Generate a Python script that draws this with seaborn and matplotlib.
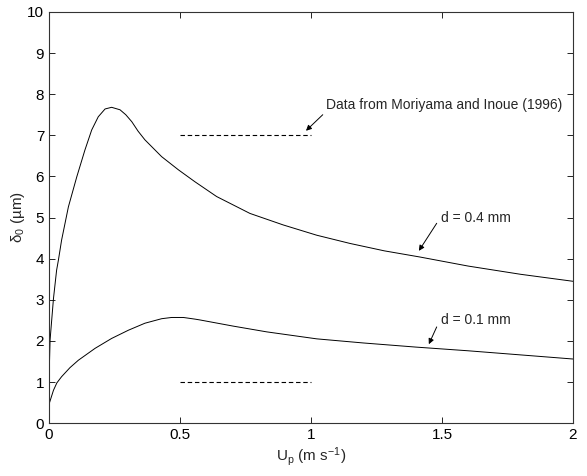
import numpy as np
import pandas as pd
import matplotlib
matplotlib.use("Agg")
import matplotlib.pyplot as plt
import seaborn as sns

# curves
up_04 = [0, 0.001, 0.004, 0.017, 0.029, 0.036, 0.048, 0.074, 0.106, 0.137, 0.163,
         0.188, 0.214, 0.239, 0.271, 0.293, 0.316, 0.34, 0.366, 0.43, 0.494, 0.557,
         0.64, 0.767, 0.894, 1.022, 1.149, 1.28, 1.416, 1.6, 1.8, 2.0]
delta_04 = [1.2, 1.29, 2.02, 3.03, 3.72, 3.97, 4.45, 5.26, 5.99, 6.64, 7.13,
            7.45, 7.64, 7.68, 7.62, 7.5, 7.33, 7.1, 6.89, 6.48, 6.16, 5.87,
            5.51, 5.10, 4.82, 4.57, 4.37, 4.19, 4.04, 3.82, 3.62, 3.45]

up_01 = [0, 0.001, 0.017, 0.03, 0.048, 0.08, 0.112, 0.176, 0.239, 0.303, 0.366,
         0.43, 0.468, 0.513, 0.557, 0.576, 0.703, 0.831, 1.022, 1.2, 1.4, 1.6,
         1.8, 2.0]
delta_01 = [0.3, 0.48, 0.80, 0.98, 1.13, 1.35, 1.53, 1.82, 2.06, 2.26, 2.43,
            2.54, 2.57, 2.57, 2.53, 2.51, 2.36, 2.22, 2.05, 1.95, 1.85, 1.76,
            1.66, 1.56]

# Moriyama and Inoue (1996) data ranges
data_x = [0.5, 1.0]
data_high = [7, 7]
data_low = [1, 1]

sns.set_style("ticks")
plt.rcParams['font.family'] = ['Liberation Sans', 'DejaVu Sans']
plt.rcParams['mathtext.fontset'] = 'custom'
plt.rcParams['mathtext.rm'] = 'Liberation Sans'
plt.rcParams['mathtext.it'] = 'Liberation Sans'

fig = plt.figure(figsize=(5.87, 4.76), dpi=100)
ax = fig.add_axes([0.0835, 0.111, 0.8925, 0.864])

sns.lineplot(x=up_04, y=delta_04, color='black', lw=0.7, sort=False, ax=ax)
sns.lineplot(x=up_01, y=delta_01, color='black', lw=0.7, sort=False, ax=ax)
sns.lineplot(x=data_x, y=data_high, color='black', lw=0.8, ls=(0, (4, 2.5)), ax=ax)
sns.lineplot(x=data_x, y=data_low, color='black', lw=0.8, ls=(0, (4, 2.5)), ax=ax)

arrow = dict(arrowstyle='-|>', color='black', lw=0.7, mutation_scale=8, shrinkA=0, shrinkB=0)
ax.annotate('', xy=(0.981, 7.11), xytext=(1.045, 7.5), arrowprops=arrow)
ax.text(1.056, 7.74, 'Data from Moriyama and Inoue (1996)', fontsize=10, va='center')
ax.annotate('', xy=(1.412, 4.19), xytext=(1.48, 4.86), arrowprops=arrow)
ax.text(1.496, 4.98, 'd = 0.4 mm', fontsize=10, va='center')
ax.annotate('', xy=(1.45, 1.92), xytext=(1.48, 2.34), arrowprops=arrow)
ax.text(1.496, 2.51, 'd = 0.1 mm', fontsize=10, va='center')

ax.set_xlim(0, 2)
ax.set_ylim(0, 10)
ax.set_xticks([0, 0.5, 1, 1.5, 2])
ax.set_xticklabels(['0', '0.5', '1', '1.5', '2'])
ax.set_yticks(range(0, 11))
ax.tick_params(direction='in', top=True, right=True, length=4, width=0.6,
               labelsize=11, colors='black')
for s in ax.spines.values():
    s.set_linewidth(0.8)
    s.set_color('#333333')

ax.set_xlabel('U$_p$ (m s$^{-1}$)', fontsize=11, labelpad=2)
ax.set_ylabel('δ$_0$ (µm)', fontsize=11, labelpad=0)

fig.savefig('out.png', dpi=100)
